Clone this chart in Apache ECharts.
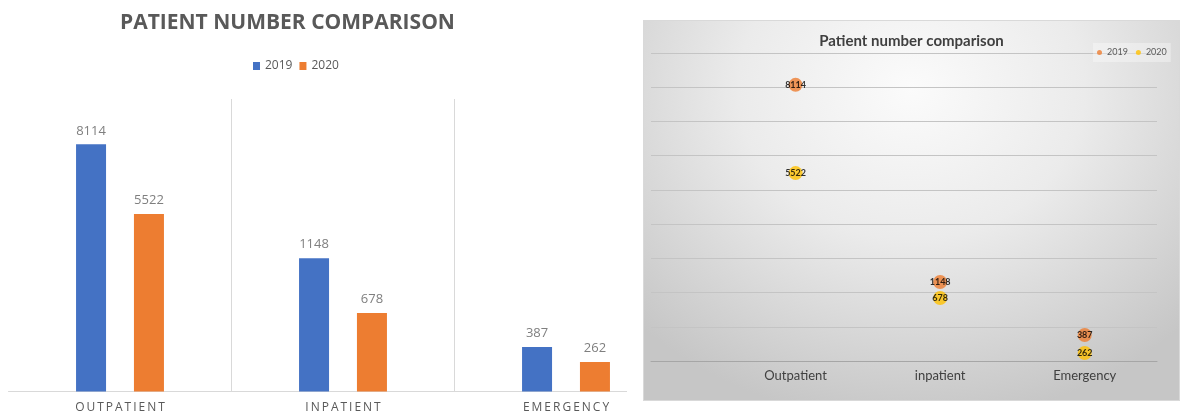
<!DOCTYPE html>
<html>
<head>
<meta charset="utf-8">
<script src="https://cdn.jsdelivr.net/npm/echarts@6/dist/echarts.min.js"></script>
<style>
  html, body { margin: 0; padding: 0; background: #ffffff; }
  #leftWrap { position: absolute; left: 0; top: 0; width: 627px; height: 416px; overflow: hidden; }
  #left { width: 690px; height: 416px; }
  #right { position: absolute; left: 643px; top: 20px; width: 535px; height: 379px;
    border: 1px solid #d9d9d9;
    background: radial-gradient(ellipse 72% 88% at 50% 18%, #fbfbfb 0%, #ebebeb 45%, #c6c6c6 100%); }
</style>
</head>
<body>
<div id="leftWrap"><div id="left"></div></div>
<div id="right"></div>
<script>
// ---- data ----
const categories = ['OUTPATIENT', 'INPATIENT', 'EMERGENCY'];
const rightCategories = ['Outpatient', 'inpatient', 'Emergency'];
const seriesNames = ['2019', '2020'];
// printed patient counts
const count2019 = [8114, 1148, 387];
const count2020 = [5522, 678, 262];
// bar heights as drawn in the left chart (read on its hidden value scale)
const barHeight2019 = [8113, 4372, 1461];
const barHeight2020 = [5826, 2576, 968];
// point heights as drawn in the right chart (read on its 0-9000 gridline scale)
const pointHeight2019 = [8070, 2310, 760];
const pointHeight2020 = [5490, 1840, 235];

const spaced = s => s.split('').join('\u2009');

// ---- left chart ----
const left = echarts.init(document.getElementById('left'), null, { renderer: 'canvas' });
const barLabel = counts => ({
  show: true, position: 'top', distance: 7,
  color: '#7f7f7f', fontSize: 13, fontFamily: 'Open Sans',
  formatter: p => String(counts[p.dataIndex])
});
left.setOption({
  animation: false,
  backgroundColor: '#ffffff',
  title: {
    text: 'PATIENT NUMBER COMPARISON',
    left: 115, top: 8,
    textStyle: { color: '#595959', fontSize: 21, fontWeight: 'bold', fontFamily: 'Open Sans' }
  },
  legend: {
    data: seriesNames, left: 248, top: 55,
    itemWidth: 7, itemHeight: 8, itemGap: 7, icon: 'rect',
    textStyle: { color: '#595959', fontSize: 12, fontFamily: 'Open Sans' }
  },
  grid: { left: 8.5, right: 12.5, top: 99, bottom: 24.5 },
  xAxis: {
    type: 'category', data: categories,
    axisLine: { lineStyle: { color: '#d9d9d9' } },
    axisTick: { show: false },
    splitLine: { show: true, showMinLine: false, showMaxLine: false, lineStyle: { color: '#d9d9d9' } },
    axisLabel: { color: '#595959', fontSize: 12, fontFamily: 'Open Sans', margin: 10, formatter: spaced }
  },
  yAxis: { type: 'value', min: 0, max: 9600, show: false, splitLine: { show: false } },
  series: [
    { name: seriesNames[0], type: 'bar', data: barHeight2019, barWidth: 30, barGap: '93%',
      itemStyle: { color: '#4472c4' }, label: barLabel(count2019) },
    { name: seriesNames[1], type: 'bar', data: barHeight2020, barWidth: 30,
      itemStyle: { color: '#ed7d31' }, label: barLabel(count2020) }
  ]
});

// ---- right chart ----
const right = echarts.init(document.getElementById('right'), null, { renderer: 'canvas' });
const pts = (h) => h.map((v, i) => [i + 1, v]);
const ptLabel = counts => ({
  show: true, position: 'inside', color: '#000000', fontSize: 9, fontWeight: 'bold',
  fontFamily: 'Lato', formatter: p => String(counts[p.dataIndex])
});
right.setOption({
  animation: false,
  backgroundColor: 'transparent',
  title: {
    text: 'Patient number comparison',
    left: 'center', top: 8,
    textStyle: { color: '#404040', fontSize: 15, fontWeight: 'bold', fontFamily: 'Lato' }
  },
  legend: {
    data: seriesNames, left: 449, top: 22,
    padding: [5, 4], itemWidth: 5, itemHeight: 5, itemGap: 8, icon: 'circle',
    backgroundColor: 'rgba(255,255,255,0.35)',
    textStyle: { color: '#595959', fontSize: 9, fontFamily: 'Lato' }
  },
  grid: { left: 7, right: 22, top: 32, bottom: 39 },
  xAxis: {
    type: 'value', min: 0, max: 3.5, interval: 0.5,
    axisLine: { show: true, onZero: false, lineStyle: { color: '#a6a6a6' } },
    axisTick: { show: false },
    splitLine: { show: false },
    axisLabel: {
      color: '#404040', fontSize: 13, fontFamily: 'Lato', margin: 8,
      showMinLabel: false, showMaxLabel: false,
      formatter: v => (Number.isInteger(v) && v >= 1 && v <= 3) ? rightCategories[v - 1] : ''
    }
  },
  yAxis: {
    type: 'value', min: 0, max: 9000, interval: 1000,
    axisLine: { show: false }, axisTick: { show: false }, axisLabel: { show: false },
    splitLine: { lineStyle: { color: '#c4c4c4' } }
  },
  series: [
    { name: seriesNames[0], type: 'scatter', data: pts(pointHeight2019), symbolSize: 14,
      itemStyle: { color: '#ed7d31' }, label: ptLabel(count2019) },
    { name: seriesNames[1], type: 'scatter', data: pts(pointHeight2020), symbolSize: 14,
      itemStyle: { color: '#ffc000' }, label: ptLabel(count2020) }
  ]
});
</script>
</body>
</html>
